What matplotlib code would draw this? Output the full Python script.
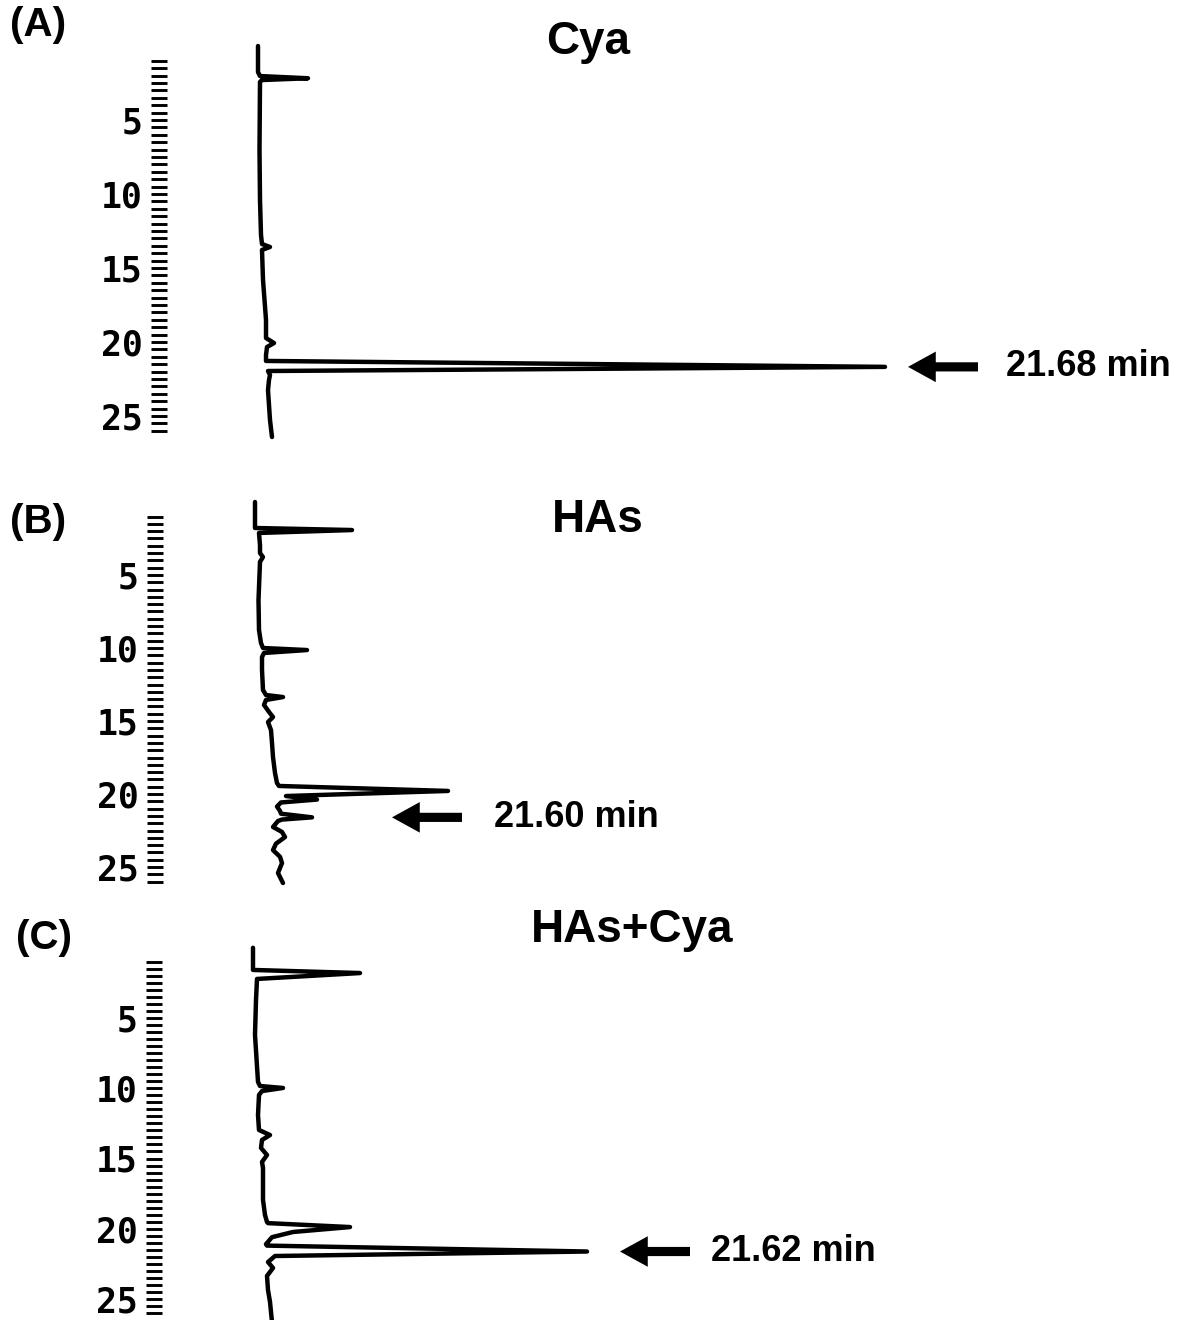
import matplotlib
matplotlib.use("Agg")
import matplotlib.pyplot as plt
from matplotlib.ticker import FixedLocator, FixedFormatter

# ---- retention time (min) and detector response (arbitrary units) ----
cya_time = [0.0, 1.76, 2.03, 2.18, 2.30, 2.43, 7.03, 10.4, 12.77, 13.38, 13.58,
            13.78, 15.8, 18.5, 19.73, 20.07, 20.34, 20.88, 21.28, 21.68, 21.96,
            22.23, 22.57, 23.24, 24.26, 25.27, 26.42]
cya_signal = [0.0, 0.0, 0.2, 5.0, 0.4, 0.2, 0.15, 0.2, 0.3, 0.4, 1.2,
              0.4, 0.5, 0.8, 0.8, 1.6, 0.9, 0.8, 0.8, 62.7, 1.0,
              1.2, 1.1, 1.0, 1.1, 1.2, 1.4]

has_time = [0.0, 1.78, 1.92, 2.12, 2.95, 3.5, 3.77, 4.1, 6.71, 8.77, 9.66, 10.0,
            10.14, 10.34, 10.62, 11.5, 12.88, 13.22, 13.36, 13.56, 13.9, 14.38,
            14.73, 15.07, 15.62, 16.5, 17.47, 18.56, 19.25, 19.45, 19.79, 20.14,
            20.38, 20.58, 20.86, 21.16, 21.35, 21.60, 21.75, 21.85, 22.26, 22.6,
            22.95, 23.4, 23.84, 24.3, 24.73, 25.41, 26.1]
has_signal = [-0.3, -0.3, 9.4, 0.1, 0.2, 0.2, 0.5, 0.2, 0.05, 0.1, 0.3, 0.5,
              4.9, 0.6, 0.4, 0.4, 0.5, 0.8, 2.5, 0.8, 0.6, 1.1,
              1.5, 1.0, 1.3, 1.4, 1.5, 1.7, 1.9, 2.1, 19.0, 2.8,
              5.9, 2.3, 1.9, 2.2, 2.3, 5.4, 2.4, 2.0, 1.5, 2.4,
              2.7, 1.8, 1.5, 2.2, 2.4, 2.0, 2.5]

mix_time = [0.0, 1.58, 1.80, 2.22, 3.72, 6.2, 9.55, 9.84, 9.98, 10.2, 10.48,
            11.9, 12.97, 13.33, 13.68, 14.25, 14.75, 15.25, 15.68, 17.95, 19.02,
            19.52, 19.6, 19.88, 20.23, 20.6, 21.1, 21.2, 21.62, 21.94, 22.37,
            22.79, 23.36, 24.36, 25.2, 26.64]
mix_signal = [-0.5, -0.5, 10.2, -0.1, -0.2, -0.3, 0.0, 0.2, 2.5, 0.4, 0.1,
              0.0, 0.1, 1.2, 0.4, 0.3, 0.9, 0.4, 0.5, 0.5, 0.7,
              0.9, 1.0, 9.2, 3.5, 1.4, 0.8, 0.9, 32.9, 1.7, 1.0,
              1.5, 0.9, 1.0, 1.2, 1.4]

panel_tags = ["(A)", "(B)", "(C)"]
panel_titles = ["Cya", "HAs", "HAs+Cya"]
peak_times = [21.68, 21.60, 21.62]
peak_labels = ["21.68 min", "21.60 min", "21.62 min"]

major_ticks = [5, 10, 15, 20, 25]
major_labels = ["5", "10", "15", "20", "25"]
minor_ticks = [t / 2 for t in range(2, 53) if (t / 2) % 5 != 0]

# ---- layout (pixels) ----
W, H = 1182, 1320
SIG_PX = 10.0          # pixels per signal unit
BASE_PX = 258.0        # pixel column of zero signal
layout = [
    dict(left=167, y5=120, s=14.8, tag=(10, 25), title=(588, 42),
         tip=908, tail=978, text=1006),
    dict(left=163, y5=575, s=14.6, tag=(10, 522), title=(598, 520),
         tip=392, tail=462, text=494),
    dict(left=162, y5=1018, s=14.05, tag=(16, 938), title=(632, 930),
         tip=620, tail=690, text=711),
]

traces = [(cya_time, cya_signal), (has_time, has_signal), (mix_time, mix_signal)]

fig = plt.figure(figsize=(W / 100, H / 100), dpi=100)
T_TOP, T_BOT = -0.5, 26.8

for i, lay in enumerate(layout):
    top = lay["y5"] - (5 - T_TOP) * lay["s"]
    bot = lay["y5"] + (T_BOT - 5) * lay["s"]
    left, right = lay["left"], W
    ax = fig.add_axes([left / W, 1 - bot / H, (right - left) / W, (bot - top) / H])
    ax.set_ylim(T_BOT, T_TOP)
    ax.set_xlim((left - BASE_PX) / SIG_PX, (right - BASE_PX) / SIG_PX)
    for sp in ax.spines.values():
        sp.set_visible(False)
    ax.patch.set_alpha(0)

    t, sig = traces[i]
    ax.plot(sig, t, color="black", lw=3.2, solid_joinstyle="round",
            solid_capstyle="round", clip_on=True)

    ax.yaxis.set_major_locator(FixedLocator(major_ticks))
    ax.yaxis.set_major_formatter(FixedFormatter(major_labels))
    ax.yaxis.set_minor_locator(FixedLocator(minor_ticks))
    ax.tick_params(axis="y", which="both", direction="out", length=11.5,
                   width=2.1, color="black", left=True, right=False)
    ax.tick_params(axis="y", which="major", pad=6, labelsize=25)
    for lab in ax.get_yticklabels():
        lab.set_fontfamily("DejaVu Sans Mono")
        lab.set_fontweight("bold")
    ax.set_xticks([])

    # arrow and retention-time label
    ypk = peak_times[i]
    tip_x = (lay["tip"] - BASE_PX) / SIG_PX
    tail_x = (lay["tail"] - BASE_PX) / SIG_PX
    ax.annotate("", xy=(tip_x, ypk), xytext=(tail_x, ypk),
                arrowprops=dict(arrowstyle="simple,head_length=1.0,head_width=1.1,tail_width=0.33",
                                mutation_scale=20, color="black", lw=0,
                                shrinkA=0, shrinkB=0))
    ax.text((lay["text"] - BASE_PX) / SIG_PX, ypk, peak_labels[i],
            fontfamily="Liberation Sans", fontweight="bold", fontsize=26,
            ha="left", va="center")

    fig.text(lay["tag"][0] / W, 1 - lay["tag"][1] / H, panel_tags[i],
             fontfamily="Liberation Sans", fontweight="bold", fontsize=29,
             ha="left", va="center")
    fig.text(lay["title"][0] / W, 1 - lay["title"][1] / H, panel_titles[i],
             fontfamily="Liberation Sans", fontweight="bold", fontsize=33,
             ha="center", va="center")

fig.savefig("out.png", dpi=100, facecolor="white")
